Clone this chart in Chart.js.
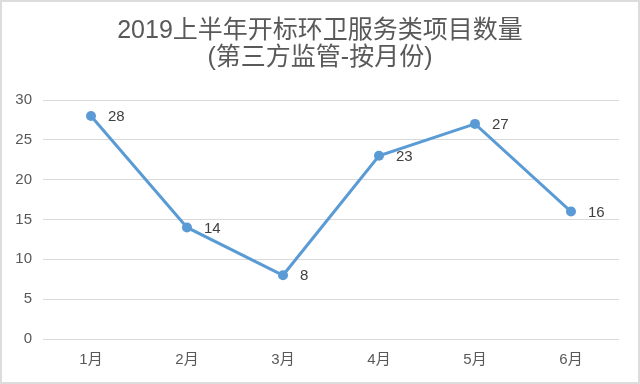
<!DOCTYPE html>
<html>
<head>
<meta charset="utf-8">
<script src="https://cdn.jsdelivr.net/npm/chart.js@4"></script>
<style>
  body { margin: 0; background: #fff; }
  #wrap { width: 640px; height: 384px; box-sizing: border-box; border: 2px solid #dcdcdc; }
</style>
</head>
<body>
<div id="wrap"><canvas id="c" width="636" height="380"></canvas></div>
<script>
// 数据
const months = ['1月', '2月', '3月', '4月', '5月', '6月'];
const counts = [28, 14, 8, 23, 27, 16];
const titleLines = ['2019上半年开标环卫服务类项目数量', '(第三方监管-按月份)'];

const FONT = '"Liberation Sans", "Noto Sans CJK SC", sans-serif';
const LINE_COLOR = '#5b9bd5';

// 数据标签：画在点的右边
const pointLabels = {
  id: 'pointLabels',
  afterDatasetsDraw(chart) {
    const ctx = chart.ctx;
    const meta = chart.getDatasetMeta(0);
    ctx.save();
    ctx.font = '15px ' + FONT;
    ctx.fillStyle = '#404040';
    ctx.textAlign = 'left';
    ctx.textBaseline = 'middle';
    meta.data.forEach((pt, i) => {
      ctx.fillText(String(counts[i]), pt.x + 17, pt.y + 1);
    });
    ctx.restore();
  }
};

// 标题
const titleDraw = {
  id: 'titleDraw',
  afterDraw(chart) {
    const ctx = chart.ctx;
    ctx.save();
    ctx.font = '25px ' + FONT;
    ctx.fillStyle = '#595959';
    ctx.textAlign = 'center';
    ctx.textBaseline = 'alphabetic';
    titleLines.forEach((t, i) => ctx.fillText(t, 318, 36 + i * 27));
    ctx.restore();
  }
};

new Chart(document.getElementById('c'), {
  type: 'line',
  data: {
    labels: months,
    datasets: [{
      data: counts,
      borderColor: LINE_COLOR,
      backgroundColor: LINE_COLOR,
      borderWidth: 3,
      pointRadius: 5,
      pointBorderWidth: 0,
      tension: 0
    }]
  },
  options: {
    responsive: false,
    animation: false,
    layout: { padding: { top: 98, right: 19, left: 0, bottom: 0 } },
    plugins: {
      legend: { display: false },
      tooltip: { enabled: false }
    },
    scales: {
      x: {
        offset: true,
        grid: { display: false, drawTicks: false },
        border: { display: false },
        ticks: { color: '#595959', font: { family: FONT, size: 15 }, padding: 12 },
        afterFit(scale) { scale.height = 43; }
      },
      y: {
        min: 0,
        max: 30,
        grid: { color: '#d9d9d9', lineWidth: 1, drawTicks: false },
        border: { display: false },
        ticks: { stepSize: 5, color: '#595959', font: { family: FONT, size: 15 }, padding: 11 },
        afterFit(scale) { scale.width = 41; }
      }
    }
  },
  plugins: [pointLabels, titleDraw]
});
</script>
</body>
</html>
